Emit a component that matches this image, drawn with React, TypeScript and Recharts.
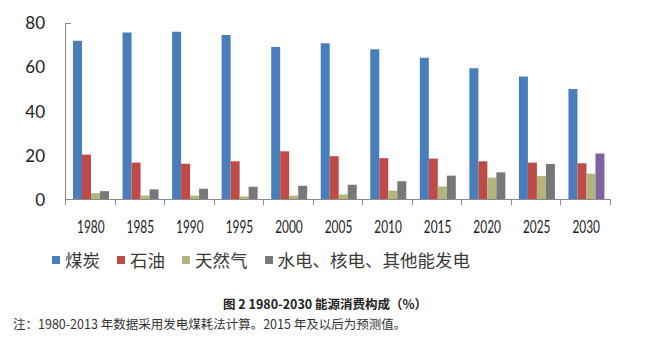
import { BarChart, Bar, XAxis, YAxis, Cell } from "recharts";

const years = ["1980", "1985", "1990", "1995", "2000", "2005", "2010", "2015", "2020", "2025", "2030"];
const coal = [72, 75.7, 76.1, 74.6, 69.2, 70.8, 68.1, 64.3, 59.5, 55.8, 50.2];
const oil = [20.5, 16.9, 16.4, 17.5, 22, 19.8, 18.9, 18.7, 17.5, 16.9, 16.6];
const gas = [3.1, 2, 2, 1.6, 2, 2.5, 4.2, 6.1, 10.1, 10.8, 11.9];
const hydro = [4, 4.8, 5.1, 6, 6.4, 6.9, 8.5, 11, 12.5, 16.3, 21];
const yTicks = [0, 20, 40, 60, 80];

const seriesNames = ["煤炭", "石油", "天然气", "水电、核电、其他能发电"];
const colors = ["#4a7ebb", "#be4b48", "#b3b67c", "#787878"];
const lastYearHydroColor = "#8064a2";
const axisColor = "#8a8a8a";

const CHART_W = 650;
const CHART_H = 240;
const MARGIN = { top: 23, right: 39, left: 0, bottom: 0 };
const Y_AXIS_W = 66;
const X_AXIS_H = 40;

const data = years.map((year, i) => ({
  year,
  coal: coal[i],
  oil: oil[i],
  gas: gas[i],
  hydro: hydro[i],
}));

const YearTick = (props: any) => {
  const { x, y, payload } = props;
  return (
    <g transform={`translate(${x},${y}) scale(0.66,1)`}>
      <text x={0} y={0} dy="0.71em" textAnchor="middle" fill="#222" fontSize={18} fontFamily="Lato, sans-serif">
        {payload.value}
      </text>
    </g>
  );
};

// axis frame as plain divs, from the same layout constants the chart uses
const AxisFrame = () => {
  const left = MARGIN.left + Y_AXIS_W;
  const right = CHART_W - MARGIN.right;
  const top = MARGIN.top;
  const bottom = CHART_H - MARGIN.bottom - X_AXIS_H;
  const band = (right - left) / years.length;
  const bounds = years.map((_, i) => left + band * i).concat(right);
  const seg = (l: number, t: number, w: number, h: number, key: string) => (
    <div key={key} style={{ position: "absolute", left: l, top: t, width: w, height: h, background: axisColor }} />
  );
  return (
    <div style={{ position: "absolute", left: 0, top: 0, width: CHART_W, height: CHART_H, pointerEvents: "none", zIndex: 5 }}>
      {seg(left - 1, top, 1, bottom - top, "yaxis")}
      {seg(left - 1, top, 6, 1, "ytop")}
      {seg(left - 1, bottom - 1, right - left + 1, 1, "xaxis")}
      {bounds.map((bx, i) => seg(Math.round(bx) - 1, bottom - 1, 1, 6, `tick-${i}`))}
    </div>
  );
};

export default function App() {
  return (
    <div style={{ position: "relative", width: 650, height: 359, background: "#fff", overflow: "hidden" }}>
      <style>{`body{margin:0}`}</style>
      <BarChart
        width={CHART_W}
        height={CHART_H}
        data={data}
        margin={MARGIN}
        barSize={9}
        barGap={0}
      >
        <XAxis
          dataKey="year"
          axisLine={false}
          tickLine={false}
          tickSize={0}
          tickMargin={20}
          height={X_AXIS_H}
          interval={0}
          tick={<YearTick />}
        />
        <YAxis
          domain={[0, 80]}
          ticks={yTicks}
          width={Y_AXIS_W}
          axisLine={false}
          tickLine={false}
          tickSize={0}
          tickMargin={21}
          tick={{ fill: "#222", fontSize: 17, fontFamily: "Lato, sans-serif" }}
        />
        <Bar dataKey="coal" fill={colors[0]} isAnimationActive={false} />
        <Bar dataKey="oil" fill={colors[1]} isAnimationActive={false} />
        <Bar dataKey="gas" fill={colors[2]} isAnimationActive={false} />
        <Bar dataKey="hydro" fill={colors[3]} isAnimationActive={false}>
          {data.map((_, i) => (
            <Cell key={`hydro-${i}`} fill={i === data.length - 1 ? lastYearHydroColor : colors[3]} />
          ))}
        </Bar>
      </BarChart>
      <AxisFrame />

      <div
        style={{
          position: "absolute",
          left: 52,
          top: 247,
          display: "flex",
          alignItems: "center",
          fontFamily: "'Noto Sans CJK SC', sans-serif",
          fontSize: 17.5,
          color: "#3a3a3a",
          whiteSpace: "nowrap",
        }}
      >
        {seriesNames.map((name, i) => (
          <div key={name} style={{ display: "flex", alignItems: "center", marginRight: 17 }}>
            <span style={{ width: 8, height: 8, background: colors[i], marginRight: 5, display: "inline-block" }} />
            <span>{name}</span>
          </div>
        ))}
      </div>

      <div
        style={{
          position: "absolute",
          left: 0,
          width: 650,
          top: 294,
          textAlign: "center",
          fontFamily: "'Noto Sans CJK SC', sans-serif",
          fontSize: 12.5,
          fontWeight: 700,
          color: "#222",
        }}
      >
        图 2 1980-2030 能源消费构成（%）
      </div>

      <div
        style={{
          position: "absolute",
          left: 13,
          top: 314,
          fontFamily: "'Noto Sans CJK SC', sans-serif",
          fontSize: 12.5,
          color: "#333",
          whiteSpace: "nowrap",
        }}
      >
        注：1980-2013 年数据采用发电煤耗法计算。2015 年及以后为预测值。
      </div>
    </div>
  );
}
